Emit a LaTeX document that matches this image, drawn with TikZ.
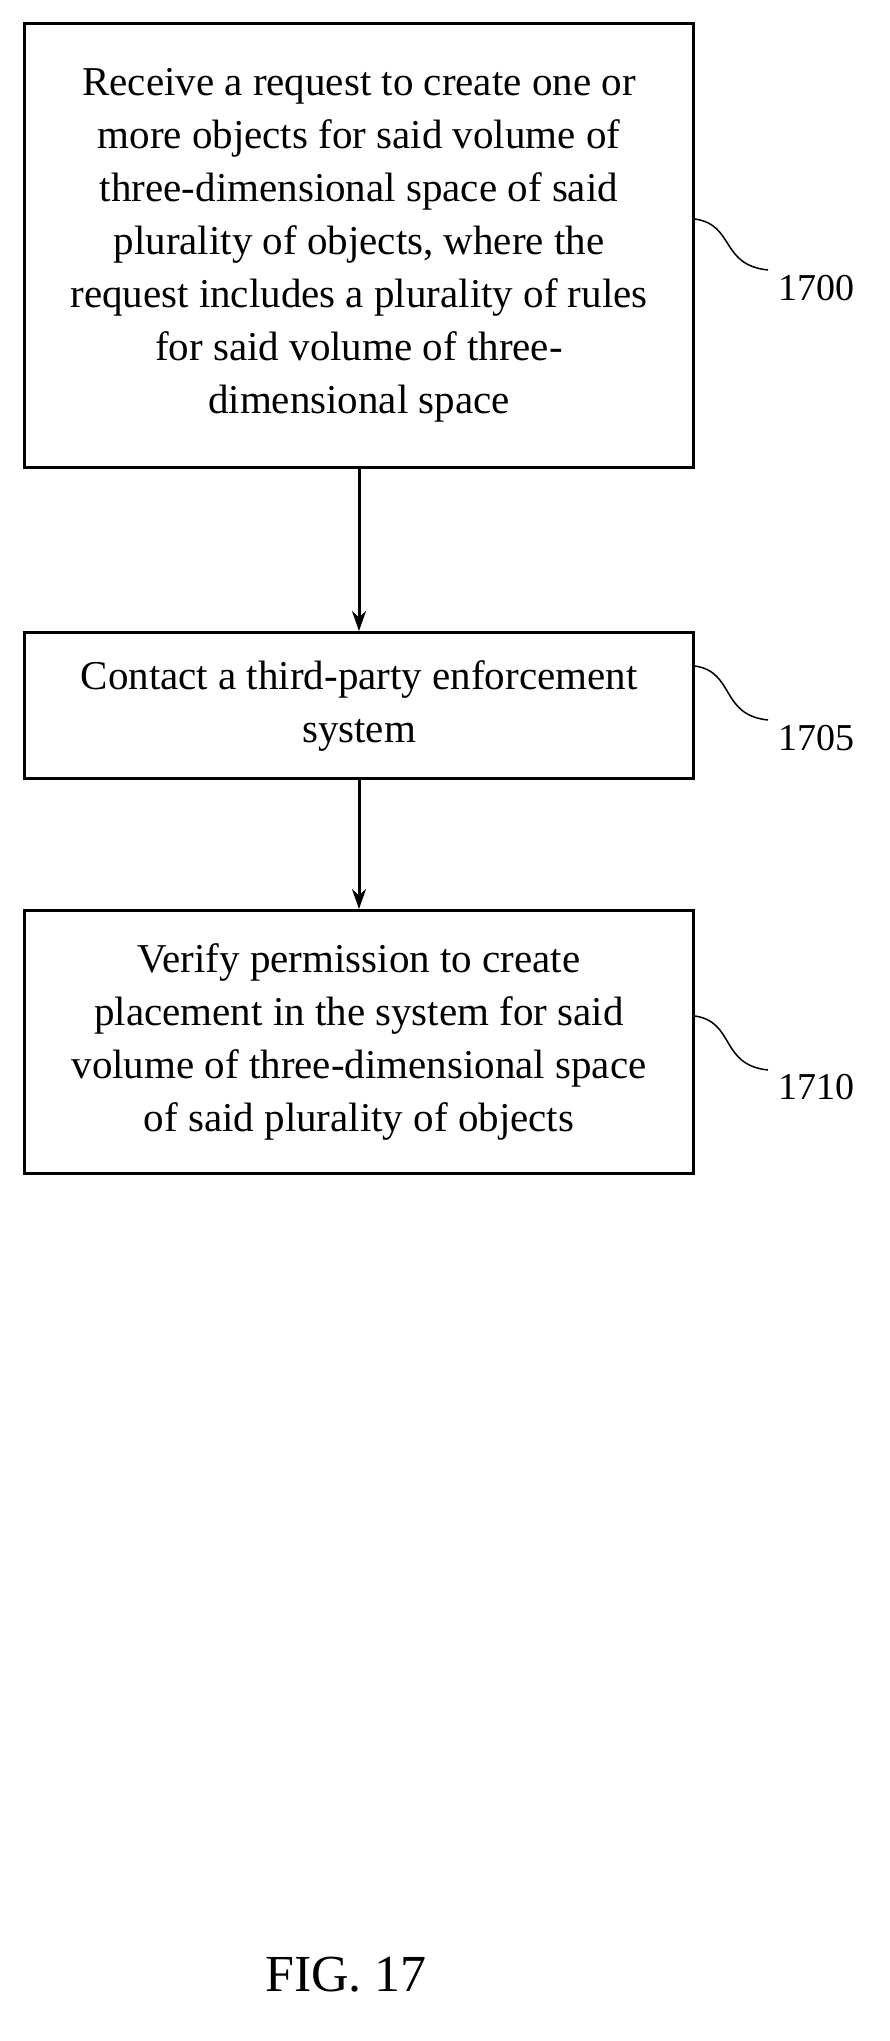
\documentclass[tikz,border=0pt]{standalone}
\usepackage{fontspec}
\setmainfont{Liberation Serif}
\usetikzlibrary{arrows.meta}
\begin{document}
\begin{tikzpicture}[x=1pt,y=-1pt,
  box/.style={draw,line width=3pt,minimum width=669pt,anchor=north west,inner sep=0pt,align=center,
    font=\fontsize{41}{53}\selectfont},
  lab/.style={font=\fontsize{38}{40}\selectfont},
  arr/.style={line width=3pt,-{Stealth[length=20pt,width=14pt]}},
  sq/.style={line width=1.5pt}]
\useasboundingbox (0,0) rectangle (889,2041);
\node[box,minimum height=444pt] (b1) at (23,22) {Receive a request to create one or\\more objects for said volume of\\three-dimensional space of said\\plurality of objects, where the\\request includes a plurality of rules\\for said volume of three-\\dimensional space};
\node[box,minimum height=146pt] (b2) at (23,631) {Contact a third-party enforcement\\system};
\node[box,minimum height=263pt] (b3) at (23,909) {Verify permission to create\\placement in the system for said\\volume of three-dimensional space\\of said plurality of objects};
\draw[arr] (b1.south) -- (b2.north);
\draw[arr] (b2.south) -- (b3.north);
\node[lab,anchor=west] (l1) at (775,288) {1700};
\node[lab,anchor=west] (l2) at (775,738) {1705};
\node[lab,anchor=west] (l3) at (775,1087) {1710};
\coordinate (c1) at (b1.north east|-0,219);
\coordinate (c2) at (b2.north east|-0,666);
\coordinate (c3) at (b3.north east|-0,1016);
\draw[sq] (c1) .. controls (735,225) and (720,265) .. (768,270);
\draw[sq] (c2) .. controls (735,672) and (720,715) .. (768,720);
\draw[sq] (c3) .. controls (735,1022) and (720,1065) .. (768,1070);
\node[font=\fontsize{52}{56}\selectfont] (fig) at (346,1975) {FIG. 17};
\end{tikzpicture}
\end{document}
